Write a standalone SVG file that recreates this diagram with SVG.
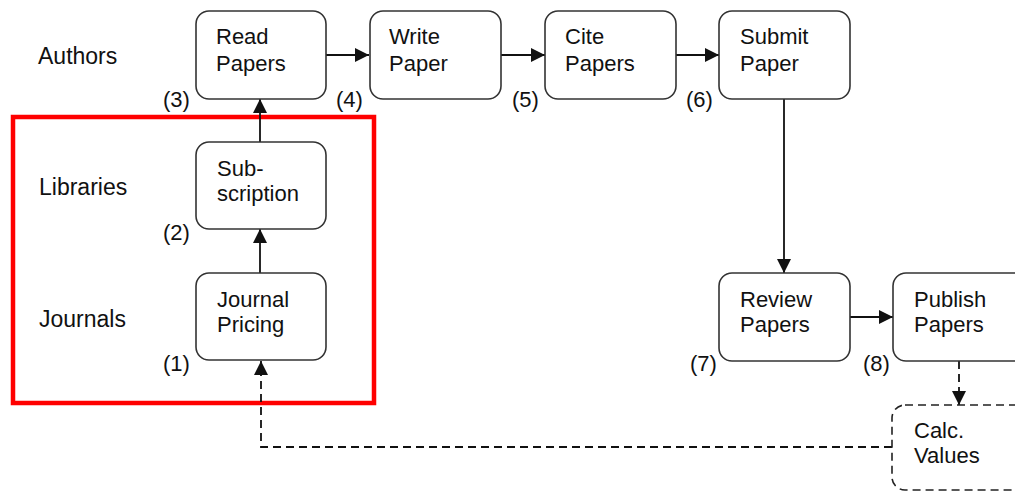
<svg xmlns="http://www.w3.org/2000/svg" width="1015" height="492" viewBox="0 0 1015 492">
  <style>
    text { font-family: "Liberation Sans", Arial, sans-serif; font-size: 22px; fill: #111; }
    .lane { font-size: 23px; }
    .node rect { fill: #fff; stroke: #333; stroke-width: 1.6; }
    .dashed rect { stroke-dasharray: 8 5; stroke: #222; }
    .conn { fill: none; stroke: #111; stroke-width: 1.8; }
    .dash { stroke-dasharray: 8 5; }
    .frame { fill: none; stroke: #f00; stroke-width: 4.5; }
  </style>
  <defs>
    <marker id="arrowL" viewBox="0 0 10 10" refX="10" refY="5" markerWidth="14" markerHeight="14" markerUnits="userSpaceOnUse" orient="auto">
      <path d="M0,0 L10,5 L0,10 z" fill="#111"/>
    </marker>
  </defs>

  <!-- row labels -->
  <g id="row-labels" class="lane">
    <text class="lane" x="38" y="64">Authors</text>
    <text class="lane" x="39" y="195">Libraries</text>
    <text class="lane" x="39" y="327">Journals</text>
  </g>

  <!-- highlight frame around library / journal rows -->
  <rect class="frame" x="13" y="117" width="361" height="286"/>

  <!-- connectors -->
  <g id="connectors">
    <line class="conn" x1="326" y1="55" x2="369" y2="55" marker-end="url(#arrowL)"/>
    <line class="conn" x1="501" y1="55" x2="545" y2="55" marker-end="url(#arrowL)"/>
    <line class="conn" x1="676" y1="55" x2="719" y2="55" marker-end="url(#arrowL)"/>
    <line class="conn" x1="260" y1="142" x2="260" y2="99" marker-end="url(#arrowL)"/>
    <line class="conn" x1="260" y1="273" x2="260" y2="229" marker-end="url(#arrowL)"/>
    <line class="conn" x1="784" y1="99" x2="784" y2="273" marker-end="url(#arrowL)"/>
    <line class="conn" x1="850" y1="317" x2="893" y2="317" marker-end="url(#arrowL)"/>
    <line class="conn dash" x1="959" y1="361" x2="959" y2="405" marker-end="url(#arrowL)"/>
    <polyline class="conn dash" points="892,447 261,447 261,361" marker-end="url(#arrowL)"/>
  </g>

  <!-- nodes -->
  <g id="read-papers" class="node">
    <rect x="196" y="11" width="130" height="88" rx="13"/>
    <text x="216" y="44">Read</text>
    <text x="216" y="71">Papers</text>
    <text x="163" y="107">(3)</text>
  </g>
  <g id="write-paper" class="node">
    <rect x="370" y="11" width="131" height="88" rx="13"/>
    <text x="389" y="44">Write</text>
    <text x="389" y="71">Paper</text>
    <text x="336" y="107">(4)</text>
  </g>
  <g id="cite-papers" class="node">
    <rect x="545" y="11" width="131" height="88" rx="13"/>
    <text x="565" y="44">Cite</text>
    <text x="565" y="71">Papers</text>
    <text x="512" y="107">(5)</text>
  </g>
  <g id="submit-paper" class="node">
    <rect x="719" y="11" width="131" height="88" rx="13"/>
    <text x="740" y="44">Submit</text>
    <text x="740" y="71">Paper</text>
    <text x="686" y="107">(6)</text>
  </g>
  <g id="subscription" class="node">
    <rect x="196" y="142" width="130" height="87" rx="13"/>
    <text x="217" y="176">Sub-</text>
    <text x="217" y="201">scription</text>
    <text x="163" y="240">(2)</text>
  </g>
  <g id="journal-pricing" class="node">
    <rect x="196" y="273" width="130" height="87" rx="13"/>
    <text x="217" y="307">Journal</text>
    <text x="217" y="332">Pricing</text>
    <text x="163" y="371">(1)</text>
  </g>
  <g id="review-papers" class="node">
    <rect x="719" y="273" width="131" height="88" rx="13"/>
    <text x="740" y="307">Review</text>
    <text x="740" y="332">Papers</text>
    <text x="690" y="371">(7)</text>
  </g>
  <g id="publish-papers" class="node">
    <rect x="893" y="273" width="140" height="88" rx="13"/>
    <text x="914" y="307">Publish</text>
    <text x="914" y="332">Papers</text>
    <text x="863" y="371">(8)</text>
  </g>
  <g id="calc-values" class="node dashed">
    <rect x="892" y="405" width="140" height="85" rx="13"/>
    <text x="914" y="438">Calc.</text>
    <text x="914" y="463">Values</text>
  </g>
</svg>
